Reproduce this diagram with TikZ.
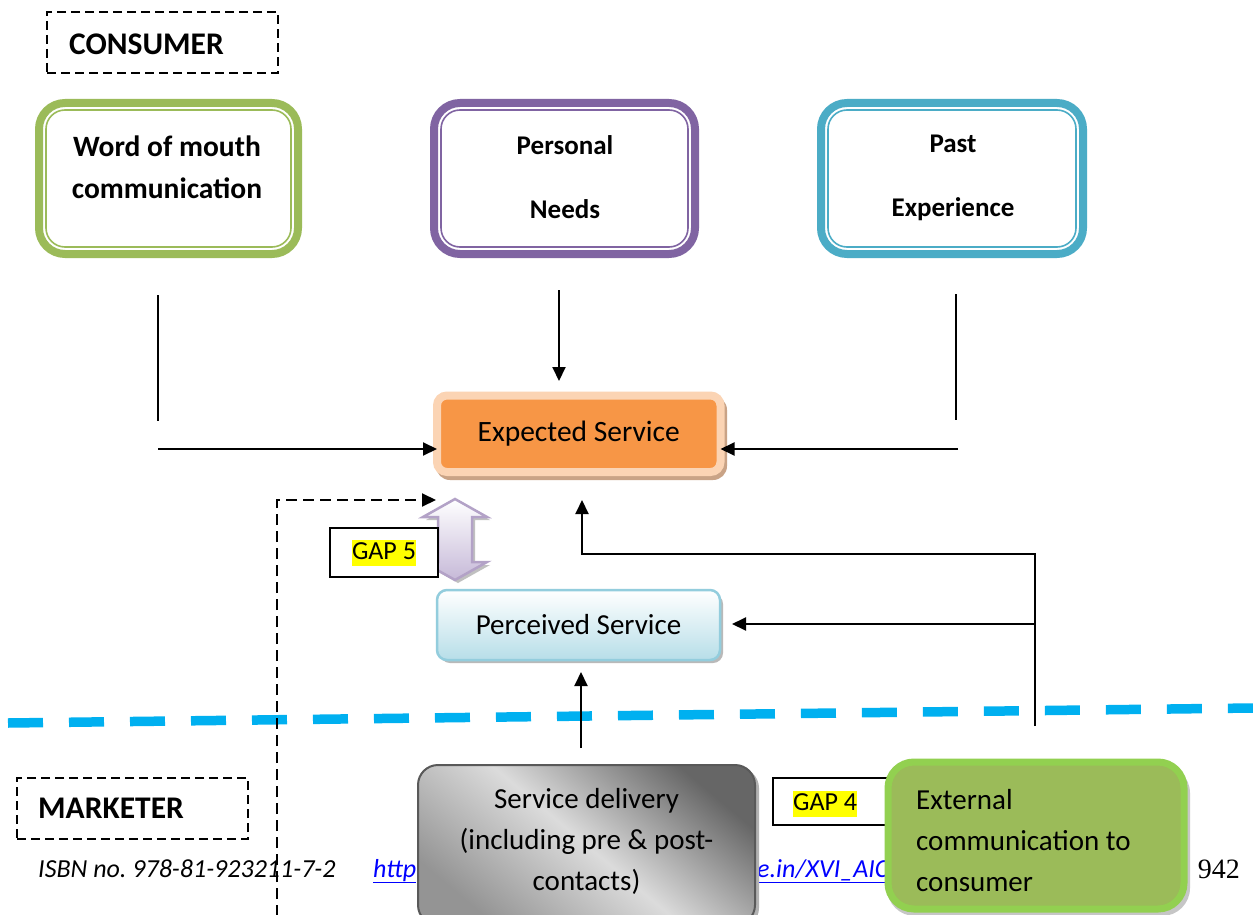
\documentclass[tikz,border=0pt]{standalone}
\usepackage{fontspec}
\setmainfont{Carlito}
\newfontfamily\pagenumfont{Liberation Serif}
\usetikzlibrary{arrows.meta}
\frenchspacing

\definecolor{womgreen}{HTML}{9BBB59}
\definecolor{needpurple}{HTML}{8064A2}
\definecolor{pastteal}{HTML}{4BACC6}
\definecolor{exporange}{HTML}{F79646}
\definecolor{exppeach}{HTML}{FBD4B4}
\definecolor{expshadow}{HTML}{C9A386}
\definecolor{percborder}{HTML}{93CDDD}
\definecolor{percfill}{HTML}{B7DEE8}
\definecolor{lineblue}{HTML}{00B0F0}
\definecolor{gaplav}{HTML}{B3A2C7}
\definecolor{gaplavfill}{HTML}{C6B9D8}
\definecolor{extfill}{HTML}{9BBB59}
\definecolor{extborder}{HTML}{92D050}
\definecolor{linkblue}{HTML}{0000FF}
\definecolor{gapyellow}{HTML}{FFFF00}

\tikzset{
  topbox/.style={draw=#1, line width=8pt, rounded corners=26pt, fill=white,
    minimum height=151pt, inner sep=0pt, outer sep=0pt},
  innerline/.style={draw=#1, line width=1.6pt, rounded corners=19pt},
  boldtxt/.style={align=center, inner sep=0pt},
  tagbox/.style={draw, dash pattern=on 9pt off 5pt, line width=2pt,
    minimum width=231pt, minimum height=61pt, inner sep=0pt},
  tagtxt/.style={anchor=west, inner sep=0pt, font=\fontsize{31.5}{36}\selectfont\bfseries},
  conn/.style={line width=2pt},
  arr/.style={line width=2pt, -{Triangle[length=14pt,width=13pt]}},
  dasharr/.style={arr, dash pattern=on 11pt off 6pt},
  gapbox/.style={draw, line width=1.6pt, fill=white, inner sep=0pt},
  gaptxt/.style={fill=gapyellow, inner sep=0pt, text height=19pt, text depth=7pt,
    font=\fontsize{26}{30}\selectfont},
  bodytxt/.style={font=\fontsize{29}{41}\selectfont},
  foottxt/.style={anchor=base west, inner sep=0pt, font=\fontsize{26}{30}\selectfont\itshape},
}

\begin{document}
\begin{tikzpicture}[x=1pt,y=-1pt]
\clip (0,0) rectangle (1253,915);
\fill[white] (0,0) rectangle (1253,915);

% consumer / marketer divide
\draw[lineblue, line width=9.5pt, dash pattern=on 35pt off 26pt] (8,723) -- (1253,708);

% consumer-side labels
\node[tagbox] (consumer) at (162.5,42.5) {};
\node[tagtxt] (consumertxt) at (69,44) {CONSUMER};

% sources of expectation
\node[topbox=womgreen, minimum width=259pt] (wom) at (168.5,178.5) {};
\draw[innerline=womgreen] ([xshift=7pt,yshift=-7pt]wom.north west) rectangle ([xshift=-7pt,yshift=7pt]wom.south east);
\node[boldtxt, font=\fontsize{29.5}{42}\selectfont\bfseries] (womtxt) at (167,167) {Word of mouth\\communication};

\node[topbox=needpurple, minimum width=261pt] (needs) at (564.5,178.5) {};
\draw[innerline=needpurple] ([xshift=7pt,yshift=-7pt]needs.north west) rectangle ([xshift=-7pt,yshift=7pt]needs.south east);
\node[boldtxt, font=\fontsize{27}{64}\selectfont\bfseries] (needstxt) at (565,177) {Personal\\Needs};

\node[topbox=pastteal, minimum width=262pt] (past) at (952,178.5) {};
\draw[innerline=pastteal] ([xshift=7pt,yshift=-7pt]past.north west) rectangle ([xshift=-7pt,yshift=7pt]past.south east);
\node[boldtxt, font=\fontsize{27}{64}\selectfont\bfseries] (pasttxt) at (953,178) {Past\\Experience};

% expected service
\fill[expshadow, rounded corners=14pt] (436,396) rectangle (727,480);
\node[draw=exppeach, fill=exporange, line width=8pt, rounded corners=10pt,
  minimum width=283.5pt, minimum height=76.5pt, inner sep=0pt, outer sep=0pt,
  font=\fontsize{29.5}{36}\selectfont] (exp) at (578.75,433.75) {Expected Service};

% GAP 5 double arrow
\fill[gray!70, opacity=.7] (458,502) -- (490,520) -- (475,520) -- (475,565) -- (490,565)
  -- (458,583) -- (426,565) -- (441,565) -- (441,520) -- (426,520) -- cycle;
\draw[gaplav, line width=2.5pt, top color=white, bottom color=gaplavfill]
  (455,499) -- (487,517) -- (472,517) -- (472,562) -- (487,562)
  -- (455,580) -- (423,562) -- (438,562) -- (438,517) -- (423,517) -- cycle;
\node[gapbox, minimum width=108pt, minimum height=49pt] (gap5) at (384,552.5) {};
\node[gaptxt] (gap5txt) at (384,553) {GAP 5};

% perceived service
\fill[gray!55, rounded corners=10pt] (440,594) rectangle (723,663);
\node[draw=percborder, line width=2.5pt, top color=white, bottom color=percfill,
  rounded corners=10pt, minimum width=283pt, minimum height=70pt, inner sep=0pt,
  outer sep=0pt, font=\fontsize{29}{35}\selectfont] (perc) at (578.5,625) {Perceived Service};

% marketer side
\node[tagbox] (marketer) at (132.5,808.5) {};
\node[tagtxt] (marketertxt) at (38,808) {MARKETER};

% footer line of the page
\node[foottxt] (isbn) at (38,877) {ISBN no. 978-81-923211-7-2};
\node[foottxt, text=linkblue] (linka) at (373,877) {\underline{http}};
\node[foottxt, text=linkblue] (linkb) at (757,877) {\underline{e.in/XVI\_AIC}};
\node[anchor=base east, inner sep=0pt, font=\fontsize{28}{32}\selectfont\pagenumfont] (pagenum) at (1240,878) {942};

% service delivery
\fill[gray!60, rounded corners=20pt] (421,768) rectangle (759,928);
\node[draw=black!65, line width=2pt, rounded corners=20pt,
  shading=axis, top color=black!60, bottom color=black!42, middle color=black!14, shading angle=-40,
  minimum width=337pt, minimum height=160pt, inner sep=0pt, outer sep=0pt,
  align=center, bodytxt] (delivery) at (586.5,845) {};
\node[align=center, inner sep=0pt, bodytxt] (deliverytxt) at (586.5,841.5) {Service delivery\\(including pre \& post-\\contacts)};

% GAP 4
\node[gapbox, minimum width=125pt, minimum height=47pt] (gap4) at (835.5,801.5) {};
\node[gaptxt, anchor=west] (gap4txt) at (793,804) {GAP 4};

% external communication
\fill[gray!45, rounded corners=28pt] (887,765) rectangle (1190,916);
\node[draw=extborder, fill=extfill, line width=7pt, rounded corners=26pt,
  minimum width=296pt, minimum height=147pt, inner sep=0pt, outer sep=0pt] (ext) at (1036,835.5) {};
\node[anchor=west, align=left, inner sep=0pt, bodytxt] (exttxt) at (916,841) {External\\communication to\\consumer};

% connectors
\coordinate (womtop) at (158,295);
\coordinate (wombot) at (158,421);
\coordinate (womfeed) at (158,449);
\coordinate (pasttop) at (956,294);
\coordinate (pastbot) at (956,420);
\coordinate (pastfeed) at (958,449);
\coordinate (needsout) at (559,290);
\coordinate (needsin) at (559,381);
\coordinate (dashsrc) at (277,916);
\coordinate (dashtip) at (436,500);
\coordinate (extout) at (1035,726);
\coordinate (extbend) at (1035,554);
\coordinate (exptip) at (582,500);
\coordinate (extmid) at (1035,624);
\coordinate (perctipr) at (732,624);
\coordinate (deltop) at (581,748);
\coordinate (perctip) at (581,672);

\draw[conn] (womtop) -- (wombot);
\draw[arr] (womfeed) -- (womfeed -| exp.west);
\draw[conn] (pasttop) -- (pastbot);
\draw[arr] (pastfeed) -- (pastfeed -| exp.east);
\draw[arr] (needsout) -- (needsin);
\draw[dasharr] (dashsrc) |- (dashtip);
\draw[arr] (extout) -- (extbend) -| (exptip);
\draw[arr] (extmid) -- (perctipr);
\draw[arr] (deltop) -- (perctip);
\end{tikzpicture}
\end{document}
